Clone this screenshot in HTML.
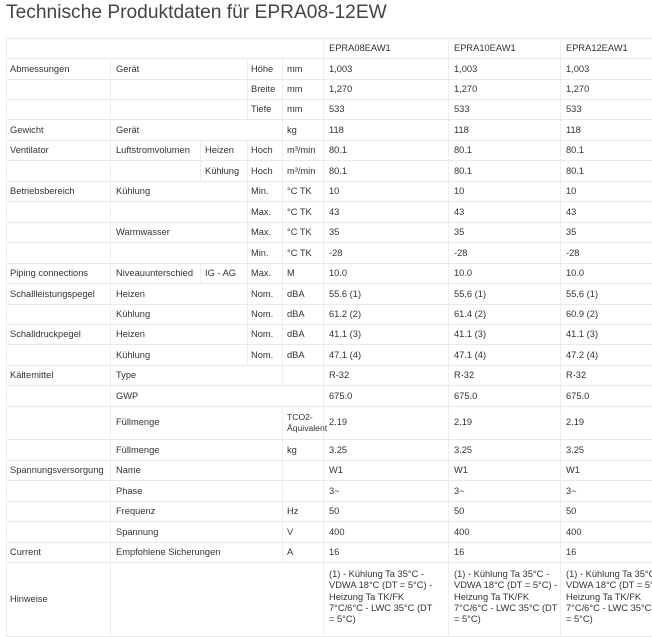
<!DOCTYPE html>
<html><head><meta charset="utf-8"><style>
html,body{margin:0;padding:0;background:#fff;width:652px;height:637px;overflow:hidden;position:relative;font-family:"Liberation Sans",sans-serif;color:#333}
h1{position:absolute;left:6px;top:2px;margin:0;font-weight:normal;font-size:19.2px;color:#444;white-space:nowrap}
.r{position:absolute;left:6px;width:660px;border-bottom:1px solid #eaeaea;font-size:9.3px}
.r span{position:absolute;white-space:nowrap}
.v{position:absolute;width:1px;background:#eeeeee}
</style></head><body>
<h1>Technische Produktdaten für EPRA08-12EW</h1>
<div style="position:absolute;left:6px;top:38px;width:660px;border-top:1px solid #eaeaea"></div>
<div class="v" style="left:6px;top:38px;height:599px"></div>
<div class="v" style="left:110px;top:59px;height:578px"></div>
<div class="v" style="left:323px;top:38px;height:599px"></div>
<div class="v" style="left:448px;top:38px;height:599px"></div>
<div class="v" style="left:560px;top:38px;height:599px"></div>
<div class="v" style="left:247px;top:59px;height:61px"></div>
<div class="v" style="left:282px;top:59px;height:61px"></div>
<div class="v" style="left:282px;top:120px;height:20px"></div>
<div class="v" style="left:200px;top:140px;height:41px"></div>
<div class="v" style="left:247px;top:140px;height:123px"></div>
<div class="v" style="left:282px;top:140px;height:246px"></div>
<div class="v" style="left:200px;top:263px;height:21px"></div>
<div class="v" style="left:247px;top:263px;height:102px"></div>
<div class="v" style="left:282px;top:406px;height:156px"></div>
<div class="v" style="left:282px;top:542px;height:20px"></div>

<div class="r" style="top:38px;height:20px;line-height:20px"><span style="left:323px">EPRA08EAW1</span><span style="left:448px">EPRA10EAW1</span><span style="left:560px">EPRA12EAW1</span></div>
<div class="r" style="top:59px;height:20px;line-height:20px"><span style="left:4px">Abmessungen</span><span style="left:110px">Gerät</span><span style="left:245px">Höhe</span><span style="left:281px">mm</span><span style="left:323px">1,003</span><span style="left:448px">1,003</span><span style="left:560px">1,003</span></div>
<div class="r" style="top:79px;height:20px;line-height:20px"><span style="left:245px">Breite</span><span style="left:281px">mm</span><span style="left:323px">1,270</span><span style="left:448px">1,270</span><span style="left:560px">1,270</span></div>
<div class="r" style="top:99px;height:20px;line-height:20px"><span style="left:245px">Tiefe</span><span style="left:281px">mm</span><span style="left:323px">533</span><span style="left:448px">533</span><span style="left:560px">533</span></div>
<div class="r" style="top:120px;height:20px;line-height:20px"><span style="left:4px">Gewicht</span><span style="left:110px">Gerät</span><span style="left:281px">kg</span><span style="left:323px">118</span><span style="left:448px">118</span><span style="left:560px">118</span></div>
<div class="r" style="top:140px;height:20px;line-height:20px"><span style="left:4px">Ventilator</span><span style="left:110px">Luftstromvolumen</span><span style="left:199px">Heizen</span><span style="left:245px">Hoch</span><span style="left:281px">m³/min</span><span style="left:323px">80.1</span><span style="left:448px">80.1</span><span style="left:560px">80.1</span></div>
<div class="r" style="top:161px;height:20px;line-height:20px"><span style="left:199px">Kühlung</span><span style="left:245px">Hoch</span><span style="left:281px">m³/min</span><span style="left:323px">80.1</span><span style="left:448px">80.1</span><span style="left:560px">80.1</span></div>
<div class="r" style="top:181px;height:20px;line-height:20px"><span style="left:4px">Betriebsbereich</span><span style="left:110px">Kühlung</span><span style="left:245px">Min.</span><span style="left:281px">°C TK</span><span style="left:323px">10</span><span style="left:448px">10</span><span style="left:560px">10</span></div>
<div class="r" style="top:202px;height:20px;line-height:20px"><span style="left:245px">Max.</span><span style="left:281px">°C TK</span><span style="left:323px">43</span><span style="left:448px">43</span><span style="left:560px">43</span></div>
<div class="r" style="top:222px;height:20px;line-height:20px"><span style="left:110px">Warmwasser</span><span style="left:245px">Max.</span><span style="left:281px">°C TK</span><span style="left:323px">35</span><span style="left:448px">35</span><span style="left:560px">35</span></div>
<div class="r" style="top:243px;height:20px;line-height:20px"><span style="left:245px">Min.</span><span style="left:281px">°C TK</span><span style="left:323px">-28</span><span style="left:448px">-28</span><span style="left:560px">-28</span></div>
<div class="r" style="top:263px;height:20px;line-height:20px"><span style="left:4px">Piping connections</span><span style="left:110px">Niveauunterschied</span><span style="left:199px">IG - AG</span><span style="left:245px">Max.</span><span style="left:281px">M</span><span style="left:323px">10.0</span><span style="left:448px">10.0</span><span style="left:560px">10.0</span></div>
<div class="r" style="top:284px;height:20px;line-height:20px"><span style="left:4px">Schallleistungspegel</span><span style="left:110px">Heizen</span><span style="left:245px">Nom.</span><span style="left:281px">dBA</span><span style="left:323px">55.6 (1)</span><span style="left:448px">55.6 (1)</span><span style="left:560px">55.6 (1)</span></div>
<div class="r" style="top:304px;height:20px;line-height:20px"><span style="left:110px">Kühlung</span><span style="left:245px">Nom.</span><span style="left:281px">dBA</span><span style="left:323px">61.2 (2)</span><span style="left:448px">61.4 (2)</span><span style="left:560px">60.9 (2)</span></div>
<div class="r" style="top:324px;height:20px;line-height:20px"><span style="left:4px">Schalldruckpegel</span><span style="left:110px">Heizen</span><span style="left:245px">Nom.</span><span style="left:281px">dBA</span><span style="left:323px">41.1 (3)</span><span style="left:448px">41.1 (3)</span><span style="left:560px">41.1 (3)</span></div>
<div class="r" style="top:345px;height:20px;line-height:20px"><span style="left:110px">Kühlung</span><span style="left:245px">Nom.</span><span style="left:281px">dBA</span><span style="left:323px">47.1 (4)</span><span style="left:448px">47.1 (4)</span><span style="left:560px">47.2 (4)</span></div>
<div class="r" style="top:365px;height:20px;line-height:20px"><span style="left:4px">Kältemittel</span><span style="left:110px">Type</span><span style="left:323px">R-32</span><span style="left:448px">R-32</span><span style="left:560px">R-32</span></div>
<div class="r" style="top:386px;height:20px;line-height:20px"><span style="left:110px">GWP</span><span style="left:323px">675.0</span><span style="left:448px">675.0</span><span style="left:560px">675.0</span></div>
<div class="r" style="top:406px;height:33px;line-height:33px"><span style="left:110px">Füllmenge</span><span style="left:281px;line-height:11px;top:6px;font-size:8.6px">TCO2-<br>Äquivalent</span><span style="left:323px">2.19</span><span style="left:448px">2.19</span><span style="left:560px">2.19</span></div>
<div class="r" style="top:440px;height:20px;line-height:20px"><span style="left:110px">Füllmenge</span><span style="left:281px">kg</span><span style="left:323px">3.25</span><span style="left:448px">3.25</span><span style="left:560px">3.25</span></div>
<div class="r" style="top:460px;height:20px;line-height:20px"><span style="left:4px">Spannungsversorgung</span><span style="left:110px">Name</span><span style="left:323px">W1</span><span style="left:448px">W1</span><span style="left:560px">W1</span></div>
<div class="r" style="top:481px;height:20px;line-height:20px"><span style="left:110px">Phase</span><span style="left:323px">3~</span><span style="left:448px">3~</span><span style="left:560px">3~</span></div>
<div class="r" style="top:501px;height:20px;line-height:20px"><span style="left:110px">Frequenz</span><span style="left:281px">Hz</span><span style="left:323px">50</span><span style="left:448px">50</span><span style="left:560px">50</span></div>
<div class="r" style="top:522px;height:20px;line-height:20px"><span style="left:110px">Spannung</span><span style="left:281px">V</span><span style="left:323px">400</span><span style="left:448px">400</span><span style="left:560px">400</span></div>
<div class="r" style="top:542px;height:20px;line-height:20px"><span style="left:4px">Current</span><span style="left:110px">Empfohlene Sicherungen</span><span style="left:281px">A</span><span style="left:323px">16</span><span style="left:448px">16</span><span style="left:560px">16</span></div>
<div class="r" style="top:562px;height:74px;line-height:74px"><span style="left:4px">Hinweise</span>
<span style="left:323px;top:7px;line-height:11.3px">(1) - Kühlung Ta 35°C -<br>VDWA 18°C (DT = 5°C) -<br>Heizung Ta TK/FK<br>7°C/6°C - LWC 35°C (DT<br>= 5°C)</span>
<span style="left:448px;top:7px;line-height:11.3px">(1) - Kühlung Ta 35°C -<br>VDWA 18°C (DT = 5°C) -<br>Heizung Ta TK/FK<br>7°C/6°C - LWC 35°C (DT<br>= 5°C)</span>
<span style="left:560px;top:7px;line-height:11.3px">(1) - Kühlung Ta 35°C -<br>VDWA 18°C (DT = 5°C) -<br>Heizung Ta TK/FK<br>7°C/6°C - LWC 35°C (DT<br>= 5°C)</span></div>
</body></html>
